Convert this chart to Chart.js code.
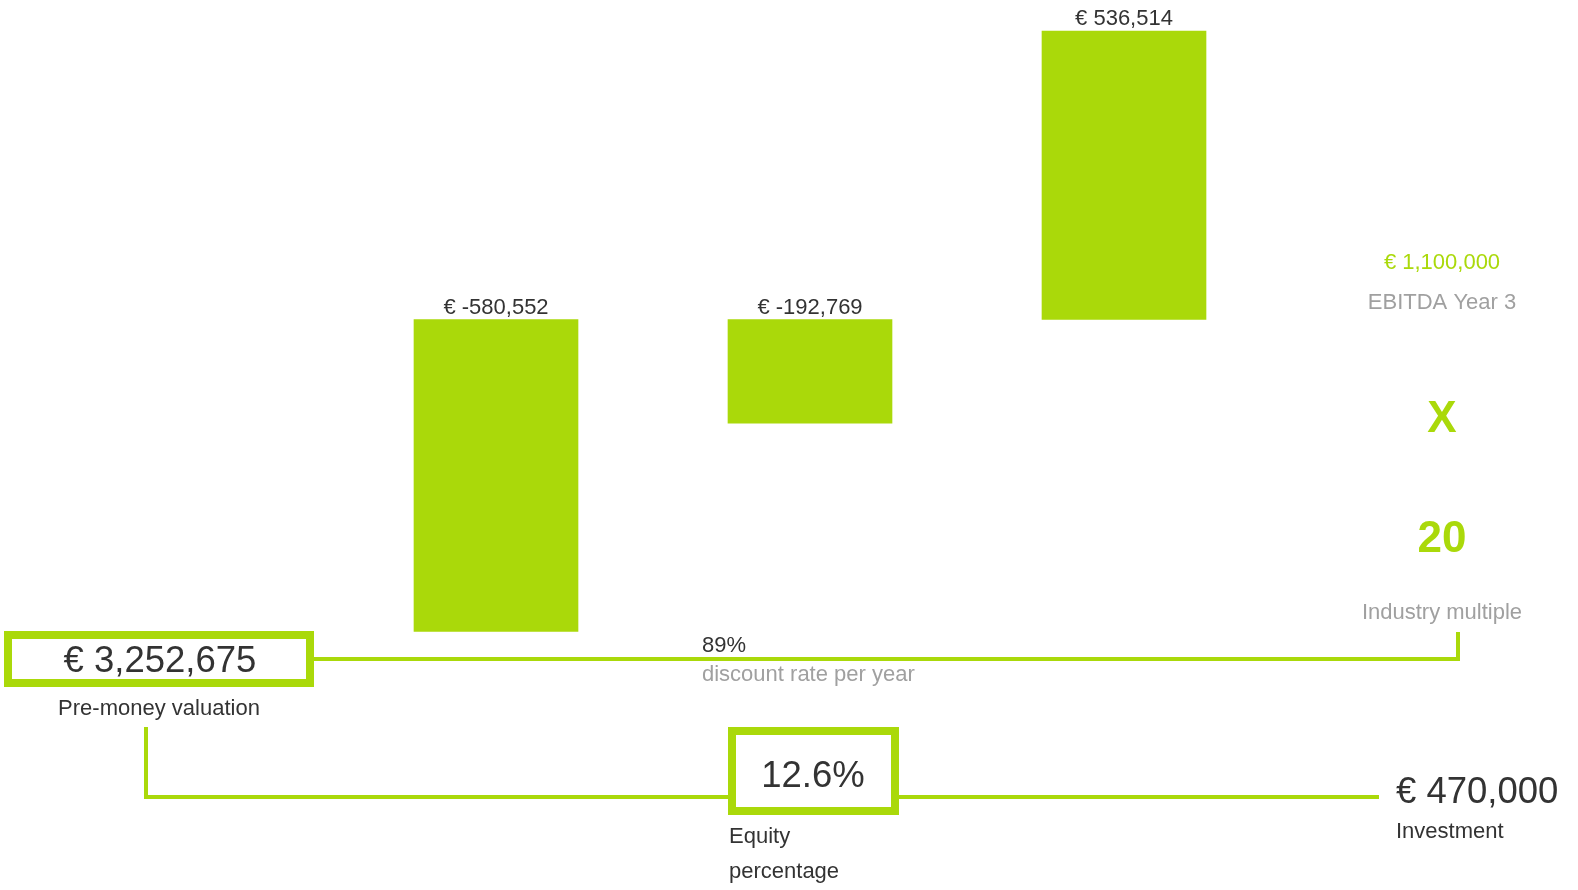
<!DOCTYPE html>
<html>
<head>
<meta charset="utf-8">
<script src="https://cdn.jsdelivr.net/npm/chart.js@4"></script>
<style>
  html, body { margin: 0; padding: 0; background: #fff; }
  #wrap { position: relative; width: 1578px; height: 890px; }
</style>
</head>
<body>
<div id="wrap"><canvas id="valuationChart"></canvas></div>
<script>
// Discounted cash flows per year
const years = ['Year 1', 'Year 2', 'Year 3'];
const cashFlows = [-580552, -192769, 536514];

// Valuation summary figures
const preMoneyValuation = 3252675;
const discountRate = 89;
const equityPercentage = 12.6;
const investment = 470000;
const ebitdaYear3 = 1100000;
const industryMultiple = 20;

const GREEN = '#aad90a';
const DARK = '#333333';
const GRAY = '#a0a0a0';
const FONT = '"Liberation Sans", Arial, sans-serif';

const euro = v => '€ ' + v.toLocaleString('en-US');

function text(ctx, str, x, y, size, color, align, bold) {
  ctx.font = (bold ? 'bold ' : '') + size + 'px ' + FONT;
  ctx.fillStyle = color;
  ctx.textAlign = align;
  ctx.textBaseline = 'alphabetic';
  ctx.fillText(str, x, y);
}

// Value labels on the bars plus the valuation diagram around them
const overlay = {
  id: 'overlay',
  afterDatasetsDraw(chart) {
    const ctx = chart.ctx;
    ctx.save();

    const meta = chart.getDatasetMeta(0);
    meta.data.forEach((bar, i) => {
      const top = Math.min(bar.y, bar.base);
      text(ctx, euro(cashFlows[i]), bar.x, top - 6, 22, DARK, 'center');
    });

    // connector lines
    ctx.strokeStyle = GREEN;
    ctx.lineWidth = 4;
    ctx.lineJoin = 'miter';
    ctx.lineCap = 'butt';
    ctx.beginPath();
    ctx.moveTo(314, 659);
    ctx.lineTo(1458, 659);
    ctx.lineTo(1458, 632);
    ctx.stroke();

    ctx.beginPath();
    ctx.moveTo(146, 727);
    ctx.lineTo(146, 797);
    ctx.lineTo(728, 797);
    ctx.stroke();

    ctx.beginPath();
    ctx.moveTo(899, 797);
    ctx.lineTo(1379, 797);
    ctx.stroke();

    // framed results
    ctx.lineWidth = 8;
    ctx.strokeRect(8, 635, 302, 48);
    ctx.strokeRect(732, 731, 163, 80);

    text(ctx, euro(preMoneyValuation), 160, 672, 36.5, DARK, 'center');
    text(ctx, 'Pre-money valuation', 159, 715, 22, DARK, 'center');

    text(ctx, discountRate + '%', 702, 652, 22, DARK, 'left');
    text(ctx, 'discount rate per year', 702, 681, 22, GRAY, 'left');

    text(ctx, equityPercentage + '%', 813, 787, 36.5, DARK, 'center');
    text(ctx, 'Equity', 729, 843, 22, DARK, 'left');
    text(ctx, 'percentage', 729, 878, 22, DARK, 'left');

    text(ctx, euro(investment), 1396, 803, 36.5, DARK, 'left');
    text(ctx, 'Investment', 1396, 838, 22, DARK, 'left');

    text(ctx, euro(ebitdaYear3), 1442, 269, 22, GREEN, 'center');
    text(ctx, 'EBITDA Year 3', 1442, 309, 22, GRAY, 'center');
    text(ctx, 'X', 1442, 432, 44, GREEN, 'center', true);
    text(ctx, String(industryMultiple), 1442, 552, 44, GREEN, 'center', true);
    text(ctx, 'Industry multiple', 1442, 619, 22, GRAY, 'center');

    ctx.restore();
  }
};

new Chart(document.getElementById('valuationChart'), {
  type: 'bar',
  data: {
    labels: years,
    datasets: [{
      data: cashFlows,
      backgroundColor: GREEN,
      borderWidth: 0,
      barThickness: 164
    }]
  },
  options: {
    responsive: true,
    maintainAspectRatio: false,
    animation: false,
    layout: { padding: { left: 339, right: 297, top: 0, bottom: 0 } },
    scales: {
      x: { display: false },
      y: { display: false, min: -1061586, max: 594526 }
    },
    plugins: {
      legend: { display: false },
      tooltip: { enabled: false }
    }
  },
  plugins: [overlay]
});
</script>
</body>
</html>
